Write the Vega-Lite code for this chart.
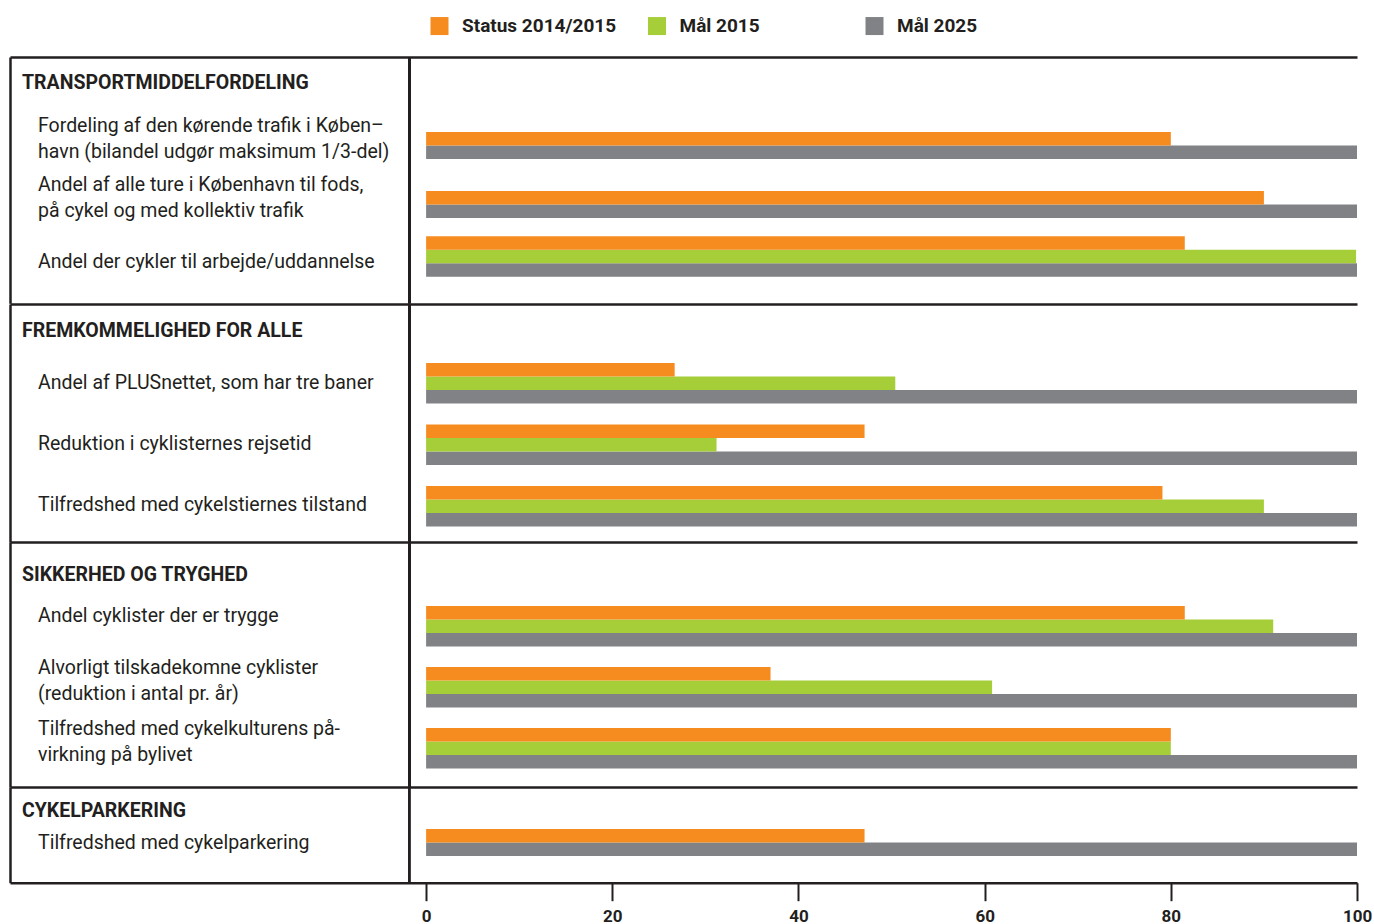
{
  "$schema": "https://vega.github.io/schema/vega-lite/v6.json",
  "padding": {"left": 10, "top": 16, "right": 5, "bottom": 0},
  "bounds": "flush",
  "spacing": 0,
  "background": "white",
  "datasets": {
    "rows": [
      {"section": "TRANSPORTMIDDELFORDELING", "item": "Fordeling af den kørende trafik i Køben–\nhavn (bilandel udgør maksimum 1/3-del)", "series": "Mål 2025", "value": 100},
      {"section": "TRANSPORTMIDDELFORDELING", "item": "Fordeling af den kørende trafik i Køben–\nhavn (bilandel udgør maksimum 1/3-del)", "series": "Status 2014/2015", "value": 80},
      {"section": "TRANSPORTMIDDELFORDELING", "item": "Andel af alle ture i København til fods,\npå cykel og med kollektiv trafik", "series": "Mål 2025", "value": 100},
      {"section": "TRANSPORTMIDDELFORDELING", "item": "Andel af alle ture i København til fods,\npå cykel og med kollektiv trafik", "series": "Status 2014/2015", "value": 90},
      {"section": "TRANSPORTMIDDELFORDELING", "item": "Andel der cykler til arbejde/uddannelse", "series": "Mål 2025", "value": 100},
      {"section": "TRANSPORTMIDDELFORDELING", "item": "Andel der cykler til arbejde/uddannelse", "series": "Mål 2015", "value": 99.9},
      {"section": "TRANSPORTMIDDELFORDELING", "item": "Andel der cykler til arbejde/uddannelse", "series": "Status 2014/2015", "value": 81.5},
      {"section": "FREMKOMMELIGHED FOR ALLE", "item": "Andel af PLUSnettet, som har tre baner", "series": "Mål 2025", "value": 100},
      {"section": "FREMKOMMELIGHED FOR ALLE", "item": "Andel af PLUSnettet, som har tre baner", "series": "Mål 2015", "value": 50.4},
      {"section": "FREMKOMMELIGHED FOR ALLE", "item": "Andel af PLUSnettet, som har tre baner", "series": "Status 2014/2015", "value": 26.7},
      {"section": "FREMKOMMELIGHED FOR ALLE", "item": "Reduktion i cyklisternes rejsetid", "series": "Mål 2025", "value": 100},
      {"section": "FREMKOMMELIGHED FOR ALLE", "item": "Reduktion i cyklisternes rejsetid", "series": "Mål 2015", "value": 31.2},
      {"section": "FREMKOMMELIGHED FOR ALLE", "item": "Reduktion i cyklisternes rejsetid", "series": "Status 2014/2015", "value": 47.1},
      {"section": "FREMKOMMELIGHED FOR ALLE", "item": "Tilfredshed med cykelstiernes tilstand", "series": "Mål 2025", "value": 100},
      {"section": "FREMKOMMELIGHED FOR ALLE", "item": "Tilfredshed med cykelstiernes tilstand", "series": "Mål 2015", "value": 90},
      {"section": "FREMKOMMELIGHED FOR ALLE", "item": "Tilfredshed med cykelstiernes tilstand", "series": "Status 2014/2015", "value": 79.1},
      {"section": "SIKKERHED OG TRYGHED", "item": "Andel cyklister der er trygge", "series": "Mål 2025", "value": 100},
      {"section": "SIKKERHED OG TRYGHED", "item": "Andel cyklister der er trygge", "series": "Mål 2015", "value": 91},
      {"section": "SIKKERHED OG TRYGHED", "item": "Andel cyklister der er trygge", "series": "Status 2014/2015", "value": 81.5},
      {"section": "SIKKERHED OG TRYGHED", "item": "Alvorligt tilskadekomne cyklister\n(reduktion i antal pr. år)", "series": "Mål 2025", "value": 100},
      {"section": "SIKKERHED OG TRYGHED", "item": "Alvorligt tilskadekomne cyklister\n(reduktion i antal pr. år)", "series": "Mål 2015", "value": 60.8},
      {"section": "SIKKERHED OG TRYGHED", "item": "Alvorligt tilskadekomne cyklister\n(reduktion i antal pr. år)", "series": "Status 2014/2015", "value": 37},
      {"section": "SIKKERHED OG TRYGHED", "item": "Tilfredshed med cykelkulturens på-\nvirkning på bylivet", "series": "Mål 2025", "value": 100},
      {"section": "SIKKERHED OG TRYGHED", "item": "Tilfredshed med cykelkulturens på-\nvirkning på bylivet", "series": "Mål 2015", "value": 80},
      {"section": "SIKKERHED OG TRYGHED", "item": "Tilfredshed med cykelkulturens på-\nvirkning på bylivet", "series": "Status 2014/2015", "value": 80},
      {"section": "CYKELPARKERING", "item": "Tilfredshed med cykelparkering", "series": "Mål 2025", "value": 100},
      {"section": "CYKELPARKERING", "item": "Tilfredshed med cykelparkering", "series": "Status 2014/2015", "value": 47.1}
    ]
  },
  "data": {"name": "rows"},
  "transform": [
    {"window": [{"op": "row_number", "as": "slot"}], "groupby": ["item"]}
  ],
  "config": {
    "view": {"stroke": null},
    "title": {"anchor": "start", "frame": "group", "font": "Roboto", "fontSize": 19.5, "fontWeight": "bold", "color": "#231f20", "dx": 12, "baseline": "middle"},
    "legend": {"symbolType": "square", "symbolSize": 324, "symbolStrokeWidth": 0, "symbolOpacity": 1, "labelFont": "Roboto", "labelFontSize": 19, "labelFontWeight": "bold", "labelColor": "#231f20", "labelOffset": 13, "columnPadding": 30.5, "gridAlign": "all", "padding": 0},
    "text": {"align": "left", "baseline": "middle", "dx": 28, "lineBreak": "\n", "lineHeight": 26, "font": "Roboto", "fontSize": 19.5, "color": "#231f20"},
    "axis": {"grid": false}
  },
  "vconcat": [
    {
      "width": 1347, "height": 246.3,
      "title": {"text": "TRANSPORTMIDDELFORDELING", "offset": -38},
      "transform": [{"filter": "datum.section === 'TRANSPORTMIDDELFORDELING'"}],
      "resolve": {"axis": {"x": "independent"}},
      "layer": [
        {
          "mark": {"type": "bar"},
          "encoding": {
            "y": {"field": "item", "type": "nominal", "sort": null, "scale": {"paddingInner": 0.312, "paddingOuter": 0.747, "align": 0.699}, "axis": {"title": null, "labels": false, "ticks": false, "domainColor": "#231f20", "domainWidth": 2.5}},
            "x": {"field": "value", "type": "quantitative", "scale": {"domain": [-44.7, 100], "nice": false}, "axis": {"orient": "top", "labels": false, "ticks": false, "title": null, "domainColor": "#231f20", "domainWidth": 2.5}},
            "yOffset": {"field": "slot", "type": "ordinal", "scale": {"domain": [3, 2, 1], "paddingInner": 0, "paddingOuter": 0}},
            "color": {"field": "series", "type": "nominal", "scale": {"domain": ["Status 2014/2015", "Mål 2015", "Mål 2025"], "range": ["#f68b1f", "#a6ce39", "#808285"]}, "legend": {"title": null, "orient": "none", "legendX": 420, "legendY": -40.7, "direction": "horizontal", "columns": 3}}
          }
        },
        {
          "transform": [{"filter": "datum.series === 'Mål 2025' && indexof(datum.item, '\\n') < 0"}],
          "mark": {"type": "text", "dy": 5},
          "encoding": {
            "y": {"field": "item", "type": "nominal", "sort": null},
            "x": {"datum": -44.7, "axis": null},
            "text": {"field": "item"}
          }
        },
        {
          "transform": [{"filter": "datum.series === 'Mål 2025' && indexof(datum.item, '\\n') >= 0"}],
          "mark": {"type": "text", "dy": -13},
          "encoding": {
            "y": {"field": "item", "type": "nominal", "sort": null},
            "x": {"datum": -44.7, "axis": null},
            "text": {"field": "item"}
          }
        },
        {
          "mark": {"type": "rule", "color": "#231f20", "strokeWidth": 2.5},
          "encoding": {"x": {"datum": -1.8, "axis": null}}
        }
      ]
    },
    {
      "width": 1347, "height": 238,
      "title": {"text": "FREMKOMMELIGHED FOR ALLE", "offset": -39},
      "transform": [{"filter": "datum.section === 'FREMKOMMELIGHED FOR ALLE'"}],
      "resolve": {"axis": {"x": "independent"}},
      "layer": [
        {
          "mark": {"type": "bar"},
          "encoding": {
            "y": {"field": "item", "type": "nominal", "sort": null, "scale": {"paddingInner": 0.333, "paddingOuter": 0.602, "align": 0.797}, "axis": {"title": null, "labels": false, "ticks": false, "domainColor": "#231f20", "domainWidth": 2.5}},
            "x": {"field": "value", "type": "quantitative", "scale": {"domain": [-44.7, 100], "nice": false}, "axis": {"orient": "top", "labels": false, "ticks": false, "title": null, "domainColor": "#231f20", "domainWidth": 2.5}},
            "yOffset": {"field": "slot", "type": "ordinal", "scale": {"domain": [3, 2, 1], "paddingInner": 0, "paddingOuter": 0}},
            "color": {"field": "series", "type": "nominal", "scale": {"domain": ["Status 2014/2015", "Mål 2015", "Mål 2025"], "range": ["#f68b1f", "#a6ce39", "#808285"]}, "legend": {"title": null, "orient": "none", "legendX": 420, "legendY": -40.7, "direction": "horizontal", "columns": 3}}
          }
        },
        {
          "transform": [{"filter": "datum.series === 'Mål 2025'"}],
          "mark": {"type": "text", "dy": -1},
          "encoding": {
            "y": {"field": "item", "type": "nominal", "sort": null},
            "x": {"datum": -44.7, "axis": null},
            "text": {"field": "item"}
          }
        },
        {
          "mark": {"type": "rule", "color": "#231f20", "strokeWidth": 2.5},
          "encoding": {"x": {"datum": -1.8, "axis": null}}
        }
      ]
    },
    {
      "width": 1347, "height": 245,
      "title": {"text": "SIKKERHED OG TRYGHED", "offset": -45},
      "transform": [{"filter": "datum.section === 'SIKKERHED OG TRYGHED'"}],
      "resolve": {"axis": {"x": "independent"}},
      "layer": [
        {
          "mark": {"type": "bar"},
          "encoding": {
            "y": {"field": "item", "type": "nominal", "sort": null, "scale": {"paddingInner": 0.344, "paddingOuter": 0.68, "align": 0.771}, "axis": {"title": null, "labels": false, "ticks": false, "domainColor": "#231f20", "domainWidth": 2.5}},
            "x": {"field": "value", "type": "quantitative", "scale": {"domain": [-44.7, 100], "nice": false}, "axis": {"orient": "top", "labels": false, "ticks": false, "title": null, "domainColor": "#231f20", "domainWidth": 2.5}},
            "yOffset": {"field": "slot", "type": "ordinal", "scale": {"domain": [3, 2, 1], "paddingInner": 0, "paddingOuter": 0}},
            "color": {"field": "series", "type": "nominal", "scale": {"domain": ["Status 2014/2015", "Mål 2015", "Mål 2025"], "range": ["#f68b1f", "#a6ce39", "#808285"]}, "legend": {"title": null, "orient": "none", "legendX": 420, "legendY": -40.7, "direction": "horizontal", "columns": 3}}
          }
        },
        {
          "transform": [{"filter": "datum.series === 'Mål 2025' && indexof(datum.item, '\\n') < 0"}],
          "mark": {"type": "text", "dy": -10},
          "encoding": {
            "y": {"field": "item", "type": "nominal", "sort": null},
            "x": {"datum": -44.7, "axis": null},
            "text": {"field": "item"}
          }
        },
        {
          "transform": [{"filter": "datum.series === 'Mål 2025' && indexof(datum.item, '\\n') >= 0"}],
          "mark": {"type": "text", "dy": -19},
          "encoding": {
            "y": {"field": "item", "type": "nominal", "sort": null},
            "x": {"datum": -44.7, "axis": null},
            "text": {"field": "item"}
          }
        },
        {
          "mark": {"type": "rule", "color": "#231f20", "strokeWidth": 2.5},
          "encoding": {"x": {"datum": -1.8, "axis": null}}
        }
      ]
    },
    {
      "width": 1347, "height": 95.7,
      "title": {"text": "CYKELPARKERING", "offset": -36},
      "transform": [{"filter": "datum.section === 'CYKELPARKERING'"}],
      "resolve": {"axis": {"x": "independent"}},
      "layer": [
        {
          "mark": {"type": "bar"},
          "encoding": {
            "y": {"field": "item", "type": "nominal", "sort": null, "scale": {"paddingInner": 0, "paddingOuter": 0.681, "align": 0.516}, "axis": {"title": null, "labels": false, "ticks": false, "domainColor": "#231f20", "domainWidth": 2.5}},
            "x": {"field": "value", "type": "quantitative", "scale": {"domain": [-44.7, 100], "nice": false}, "axis": {"orient": "bottom", "values": [0, 20, 40, 60, 80, 100], "title": null, "domainColor": "#231f20", "domainWidth": 2.5, "tickColor": "#231f20", "tickWidth": 2, "tickSize": 18, "labelPadding": 8, "labelFont": "Roboto", "labelFontSize": 17, "labelFontWeight": "bold", "labelColor": "#231f20", "labelFlush": false, "labelBaseline": "top"}},
            "yOffset": {"field": "slot", "type": "ordinal", "scale": {"domain": [3, 2, 1], "paddingInner": 0, "paddingOuter": 0}},
            "color": {"field": "series", "type": "nominal", "scale": {"domain": ["Status 2014/2015", "Mål 2015", "Mål 2025"], "range": ["#f68b1f", "#a6ce39", "#808285"]}, "legend": {"title": null, "orient": "none", "legendX": 420, "legendY": -40.7, "direction": "horizontal", "columns": 3}}
          }
        },
        {
          "transform": [{"filter": "datum.series === 'Mål 2025'"}],
          "mark": {"type": "text", "dy": 7},
          "encoding": {
            "y": {"field": "item", "type": "nominal", "sort": null},
            "x": {"datum": -44.7, "axis": null},
            "text": {"field": "item"}
          }
        },
        {
          "mark": {"type": "rule", "color": "#231f20", "strokeWidth": 2.5},
          "encoding": {"x": {"datum": -1.8, "axis": {"orient": "top", "labels": false, "ticks": false, "title": null, "domainColor": "#231f20", "domainWidth": 2.5}}}
        }
      ]
    }
  ]
}
